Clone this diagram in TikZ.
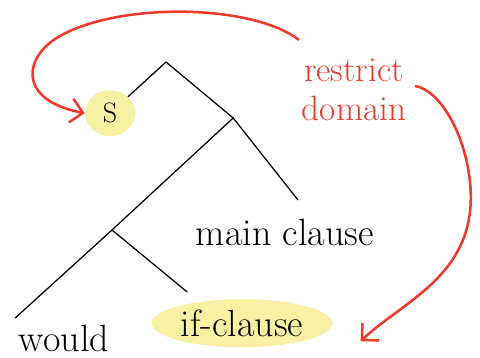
\documentclass[tikz,border=0pt]{standalone}
\usepackage{xcolor}
\usepackage{tikz}
\usetikzlibrary{arrows.meta,positioning,shapes.geometric,calc}
\definecolor{markred}{HTML}{F0392B}
\definecolor{hiyellow}{HTML}{F8F1A4}

\begin{document}
\begin{tikzpicture}[
  font=\fontsize{27}{30}\selectfont,
  branch/.style={line width=0.9pt},
  hilite/.style={ellipse,fill=hiyellow,inner sep=2pt},
  word/.style={inner sep=1pt},
  note/.style={color=markred,align=center,font=\fontsize{25}{28}\selectfont},
  scopearrow/.style={draw=markred,line width=1.8pt,-{Straight Barb[length=3mm,width=6mm]}}]
\useasboundingbox (0,0) rectangle (12,-8.95);
% tree skeleton
\coordinate (root) at (4.15,-1.55);
\coordinate (top) at (5.83,-2.95);
\coordinate (low) at (2.8,-5.75);
\coordinate (mainend) at (7.45,-5.0);
\coordinate (wouldend) at (0.38,-7.95);
\coordinate (ifend) at (4.68,-7.3);
% leaves
\node[hilite,minimum width=1.25cm,minimum height=1.15cm,font=\fontsize{20}{22}\selectfont] (s) at (2.75,-2.83) {S};
\node[word] (main) at (7.12,-5.8) {main clause};
\node[word] (would) at (1.6,-8.45) {would};
\node[hilite,minimum width=3.95cm,minimum height=1.2cm] (ifc) at (6.05,-8.08) {if-clause};
\node[note] (rd) at (8.85,-2.25) {restrict\\domain};
% branches
\draw[branch] (root) -- (s);
\draw[branch] (root) -- (top) -- (mainend);
\draw[branch] (top) -- (low) -- (wouldend);
\draw[branch] (low) -- (ifend);
% red arrows
\draw[scopearrow] ([shift={(0.05,0.35)}]rd.north west) .. controls (6.3,-0.1) and (3.0,-0.05) .. (1.5,-0.9)
  .. controls (0.6,-1.4) and (0.4,-2.5) .. (s.west);
\draw[scopearrow] ([shift={(0.1,0.1)}]rd.east) .. controls (11.2,-2.3) and (11.9,-4.0) .. (11.75,-5.3)
  .. controls (11.55,-7.0) and (10.0,-7.6) .. ([shift={(0.7,-0.45)}]ifc.east);
\end{tikzpicture}
\end{document}
